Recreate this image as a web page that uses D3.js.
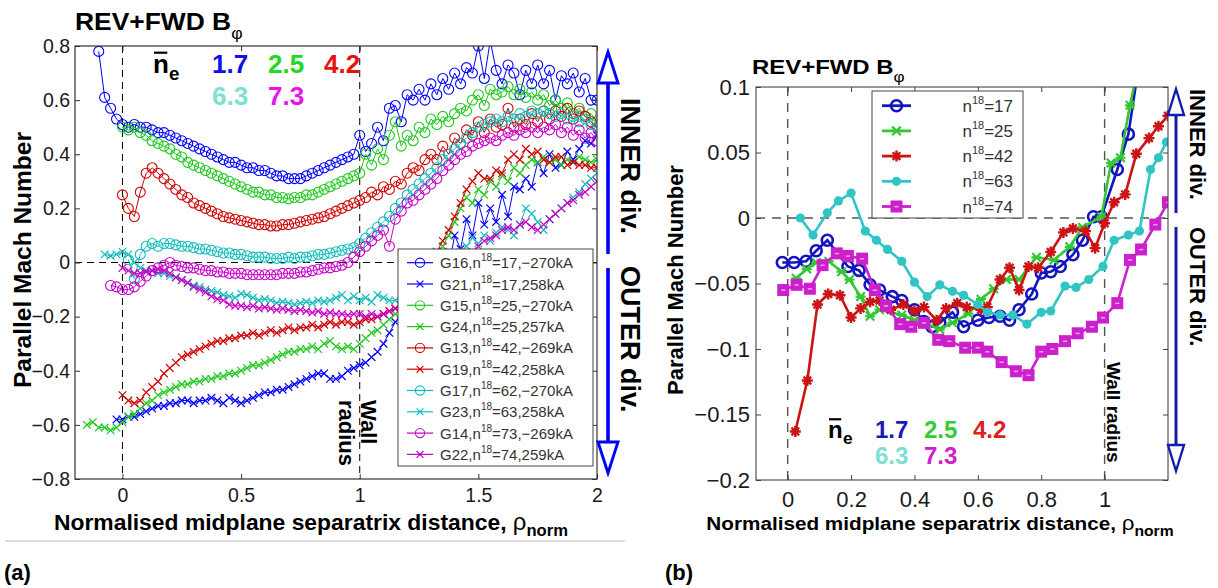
<!DOCTYPE html>
<html><head><meta charset="utf-8">
<script src="https://cdn.jsdelivr.net/npm/d3@7"></script>
<style>
body{margin:0;background:#fff;}
text{font-family:"Liberation Sans",Arial,Helvetica,sans-serif;}
</style>
</head><body>
<svg id="c" width="1218" height="588"></svg>
<script>
// ===== DATA: panel (a) =====
const leftStep = 0.025;
const leftLabels = ["G16","G21","G15","G24","G13","G19","G17","G23","G14","G22"];
const leftDens   = ["17","17","25","25","42","42","62","63","73","74"];
const leftCurr   = ["\u2212270kA","258kA","\u2212270kA","257kA","\u2212269kA","258kA","\u2212270kA","258kA","\u2212269kA","259kA"];
const leftMarkers = ["o","x","o","x","o","x","o","x","o","x"];
const leftStarts = [-0.1,-0.025,0,-0.15,0,0,0.025,-0.075,-0.05,0];
const G16 = [0.78,0.61,0.57,0.53,
 0.51,0.50,0.51,0.50,0.50,0.49,0.48,0.48,0.47,0.46,0.45,0.44,0.43,0.42,0.41,0.40,0.39,0.38,0.37,0.37,
 0.36,0.35,0.35,0.34,0.34,0.33,0.32,0.32,0.31,0.31,0.31,0.32,0.33,0.34,0.35,0.36,0.37,0.38,0.39,0.40,
 0.47,0.41,0.44,0.50,0.45,0.57,0.58,0.52,0.62,0.60,0.64,0.60,0.66,0.62,0.68,0.64,0.70,0.66,0.72,0.70,
 0.80,0.68,0.82,0.71,0.66,0.73,0.70,0.62,0.71,0.66,0.73,0.66,0.71,0.60,0.69,0.66,0.70,0.63,0.68,0.60,0.60];
const G21 = [-0.58,
 -0.58,-0.57,-0.57,-0.56,-0.55,-0.54,-0.53,-0.53,-0.52,-0.52,-0.51,-0.51,-0.52,-0.51,-0.51,-0.50,-0.51,-0.52,-0.50,-0.51,
 -0.52,-0.51,-0.50,-0.49,-0.48,-0.48,-0.47,-0.47,-0.46,-0.45,-0.44,-0.43,-0.42,-0.41,-0.41,-0.43,-0.43,-0.42,-0.40,-0.39,
 -0.38,-0.37,-0.35,-0.33,-0.30,-0.26,-0.22,-0.19,-0.15,-0.12,-0.10,-0.06,-0.02,-0.05,0.04,-0.02,0.10,0.05,0.16,0.10,
 0.22,0.14,0.20,0.15,0.25,0.17,0.28,0.27,0.31,0.28,0.37,0.33,0.40,0.35,0.36,0.41,0.38,0.42,0.45,0.44,0.47];
const G15 = [0.50,0.49,0.50,0.48,0.47,0.45,0.44,0.43,0.42,0.40,0.39,0.37,0.36,0.35,0.34,0.33,0.32,0.31,0.30,0.29,
 0.28,0.27,0.26,0.26,0.25,0.25,0.24,0.24,0.235,0.24,0.24,0.25,0.25,0.26,0.27,0.28,0.29,0.30,0.31,0.32,
 0.33,0.40,0.36,0.42,0.38,0.47,0.52,0.43,0.47,0.45,0.50,0.48,0.53,0.51,0.54,0.52,0.55,0.57,0.56,0.60,
 0.62,0.58,0.64,0.62,0.63,0.65,0.62,0.64,0.61,0.63,0.60,0.62,0.58,0.60,0.57,0.59,0.55,0.57,0.54,0.55,0.52];
const G24 = [-0.60,-0.59,-0.61,-0.61,-0.62,-0.61,
 -0.59,-0.57,-0.56,-0.54,-0.52,-0.51,-0.49,-0.48,-0.47,-0.46,-0.45,-0.45,-0.44,-0.44,-0.43,-0.43,-0.42,-0.42,-0.41,-0.41,
 -0.40,-0.39,-0.38,-0.38,-0.37,-0.36,-0.35,-0.34,-0.33,-0.33,-0.32,-0.32,-0.31,-0.32,-0.30,-0.29,-0.31,-0.32,-0.31,-0.32,
 -0.30,-0.28,-0.26,-0.25,-0.23,-0.21,-0.19,-0.17,-0.15,-0.13,-0.10,-0.06,-0.02,0.03,0.06,0.10,0.15,0.20,0.24,0.22,
 0.27,0.25,0.30,0.28,0.32,0.30,0.35,0.33,0.36,0.38,0.37,0.39,0.37,0.38,0.36,0.38,0.37,0.39,0.38,0.37,0.38];
const G13 = [0.25,0.20,0.17,0.26,0.33,0.35,0.33,0.31,0.29,0.27,0.25,0.24,0.22,0.21,0.20,0.19,0.18,0.17,0.165,0.16,
 0.155,0.15,0.145,0.14,0.14,0.135,0.135,0.14,0.14,0.145,0.15,0.155,0.16,0.165,0.17,0.18,0.19,0.20,0.21,0.22,
 0.23,0.24,0.26,0.25,0.28,0.27,0.30,0.29,0.33,0.35,0.34,0.38,0.40,0.38,0.43,0.40,0.46,0.44,0.49,0.47,
 0.52,0.48,0.53,0.50,0.51,0.57,0.50,0.53,0.51,0.55,0.52,0.56,0.53,0.56,0.54,0.57,0.53,0.56,0.54,0.52,0.50];
const G19 = [-0.49,-0.51,-0.52,-0.51,-0.48,-0.46,-0.44,-0.41,-0.39,-0.37,-0.35,-0.34,-0.33,-0.32,-0.31,-0.30,-0.29,-0.29,-0.28,-0.28,
 -0.27,-0.27,-0.26,-0.27,-0.26,-0.25,-0.26,-0.25,-0.24,-0.25,-0.24,-0.24,-0.23,-0.24,-0.23,-0.22,-0.23,-0.22,-0.22,-0.23,
 -0.22,-0.21,-0.21,-0.20,-0.19,-0.18,-0.17,-0.16,-0.15,-0.12,-0.08,-0.04,0.00,0.04,0.08,0.12,0.17,0.22,0.27,0.30,
 0.33,0.31,0.31,0.34,0.33,0.38,0.40,0.38,0.42,0.40,0.41,0.38,0.37,0.39,0.39,0.36,0.37,0.36,0.36,0.35,0.35];
const G17 = [0.01,-0.06,0.03,0.06,0.07,0.06,0.07,0.07,0.065,0.06,0.06,0.055,0.05,0.05,0.045,0.04,0.035,0.035,0.03,0.03,
 0.025,0.02,0.02,0.02,0.015,0.015,0.015,0.02,0.015,0.02,0.02,0.025,0.03,0.03,0.035,0.04,0.045,0.05,0.055,
 0.07,0.09,0.11,0.13,0.15,0.17,0.20,0.22,0.25,0.27,0.29,0.31,0.33,0.35,0.38,0.40,0.42,0.44,0.46,0.48,
 0.50,0.51,0.52,0.53,0.52,0.54,0.53,0.55,0.54,0.56,0.55,0.56,0.55,0.54,0.55,0.53,0.54,0.52,0.53,0.51,0.50];
const G23 = [0.03,0.025,0.03,
 0.04,0.03,0.0,-0.02,-0.03,-0.03,-0.04,-0.04,-0.05,-0.055,-0.065,-0.075,-0.085,-0.09,-0.10,-0.105,-0.11,-0.12,-0.125,-0.13,
 -0.115,-0.12,-0.13,-0.14,-0.135,-0.14,-0.15,-0.145,-0.15,-0.155,-0.15,-0.145,-0.15,-0.14,-0.145,-0.14,-0.13,-0.12,-0.14,-0.125,
 -0.14,-0.13,-0.145,-0.12,-0.13,-0.14,-0.14,-0.15,-0.14,-0.13,-0.12,-0.10,-0.08,-0.06,-0.04,-0.02,0.01,0.04,0.06,0.09,
 0.07,0.10,0.08,0.11,0.13,0.12,0.10,0.14,0.20,0.18,0.15,0.12,0.16,0.18,0.20,0.22,0.24,0.26,0.29,0.31,0.33];
const G14 = [-0.085,-0.09,
 -0.10,-0.10,-0.09,-0.07,-0.05,-0.03,-0.02,-0.01,0.0,-0.01,-0.015,-0.02,-0.02,-0.025,-0.03,-0.03,-0.035,-0.035,-0.04,-0.04,
 -0.04,-0.045,-0.045,-0.045,-0.045,-0.045,-0.045,-0.04,-0.04,-0.04,-0.035,-0.035,-0.03,-0.025,-0.02,-0.02,-0.015,-0.01,0.0,0.02,
 0.04,0.06,0.08,0.10,0.12,0.06,0.16,0.19,0.22,0.23,0.25,0.27,0.29,0.31,0.34,0.36,0.38,0.40,0.41,0.43,
 0.44,0.45,0.46,0.45,0.47,0.48,0.47,0.49,0.48,0.50,0.48,0.50,0.49,0.51,0.48,0.50,0.47,0.49,0.46,0.48,0.45];
const G22 = [-0.02,-0.03,-0.04,-0.04,-0.035,-0.03,-0.025,-0.03,-0.04,-0.055,-0.065,-0.075,-0.09,-0.10,-0.11,-0.125,-0.135,-0.14,-0.155,-0.16,
 -0.16,-0.165,-0.16,-0.17,-0.165,-0.17,-0.175,-0.17,-0.175,-0.18,-0.175,-0.18,-0.185,-0.18,-0.19,-0.185,-0.19,-0.19,-0.195,-0.19,
 -0.19,-0.20,-0.19,-0.20,-0.19,-0.18,-0.17,-0.16,-0.16,-0.15,-0.14,-0.12,-0.10,-0.08,-0.06,-0.04,-0.02,0.0,0.02,0.04,
 0.06,0.08,0.09,0.10,0.12,0.13,0.12,0.14,0.15,0.13,0.12,0.14,0.16,0.18,0.20,0.22,0.23,0.25,0.26,0.28,0.30];
const leftValues = [G16,G21,G15,G24,G13,G19,G17,G23,G14,G22];
const leftColors = ["#0000ff","#0000ff","#1ec81e","#1ec81e","#d00000","#d00000","#10bcbc","#10bcbc","#c800c8","#c800c8"];
const leftXTicks = [0,0.5,1,1.5,2];
const leftYTicks = [-0.8,-0.6,-0.4,-0.2,0,0.2,0.4,0.6,0.8];

// ===== DATA: panel (b) =====
const rightDens = ["17","25","42","63","74"];
const rightMarkers = ["circle","star","plus","dot","square"];
const rightColors = ["#1414c0","#33c833","#cc1414","#30c4c4","#cc20cc"];
const B17_x = [-0.017,0.02,0.058,0.09,0.125,0.19,0.225,0.26,0.29,0.33,0.36,0.40,0.43,0.455,0.48,0.52,0.555,0.60,0.635,0.67,0.70,0.73,0.77,0.80,0.83,0.86,0.90,0.93,0.965,0.99,1.04,1.075,1.11];
const B17_y = [-0.034,-0.034,-0.033,-0.025,-0.017,-0.037,-0.04,-0.051,-0.055,-0.06,-0.063,-0.07,-0.079,-0.083,-0.08,-0.072,-0.083,-0.078,-0.076,-0.075,-0.078,-0.07,-0.058,-0.042,-0.041,-0.037,-0.028,-0.017,0.001,0.001,0.037,0.064,0.12];
const B25_x = [0.027,0.06,0.09,0.13,0.17,0.195,0.23,0.26,0.29,0.36,0.40,0.43,0.48,0.52,0.57,0.61,0.65,0.69,0.73,0.785,0.84,0.89,0.93,0.99,1.02,1.05,1.08,1.11];
const B25_y = [-0.046,-0.039,-0.034,-0.033,-0.041,-0.047,-0.06,-0.075,-0.07,-0.074,-0.078,-0.08,-0.085,-0.08,-0.073,-0.062,-0.054,-0.047,-0.047,-0.03,-0.032,-0.022,-0.007,0.001,0.042,0.046,0.086,0.12];
const B42_x = [0.024,0.062,0.094,0.128,0.165,0.2,0.23,0.26,0.29,0.325,0.365,0.40,0.43,0.47,0.50,0.535,0.565,0.61,0.63,0.67,0.70,0.73,0.76,0.79,0.83,0.87,0.90,0.94,0.97,1.0,1.03,1.065,1.1,1.14,1.17,1.2];
const B42_y = [-0.163,-0.124,-0.066,-0.058,-0.059,-0.076,-0.069,-0.064,-0.063,-0.07,-0.066,-0.071,-0.068,-0.078,-0.069,-0.065,-0.068,-0.07,-0.068,-0.047,-0.038,-0.055,-0.037,-0.038,-0.026,-0.011,-0.008,-0.01,-0.023,-0.004,0.012,0.018,0.049,0.061,0.07,0.078];
const B63_x = [0.04,0.08,0.125,0.16,0.2,0.245,0.28,0.315,0.36,0.40,0.44,0.48,0.52,0.555,0.60,0.63,0.67,0.71,0.755,0.80,0.83,0.875,0.91,0.95,0.995,1.03,1.075,1.11,1.145,1.17,1.195];
const B63_y = [0.0,-0.013,0.004,0.013,0.019,-0.01,-0.017,-0.024,-0.033,-0.049,-0.06,-0.051,-0.056,-0.059,-0.066,-0.072,-0.074,-0.074,-0.081,-0.072,-0.071,-0.052,-0.053,-0.047,-0.037,-0.017,-0.013,-0.01,0.037,0.046,0.058];
const B74_x = [-0.014,0.028,0.07,0.11,0.155,0.19,0.235,0.275,0.31,0.355,0.39,0.43,0.475,0.51,0.56,0.60,0.63,0.675,0.72,0.76,0.80,0.835,0.875,0.915,0.96,0.995,1.04,1.08,1.115,1.16,1.2];
const B74_y = [-0.055,-0.051,-0.054,-0.036,-0.027,-0.029,-0.031,-0.055,-0.067,-0.081,-0.083,-0.08,-0.093,-0.094,-0.099,-0.099,-0.102,-0.11,-0.117,-0.12,-0.102,-0.1,-0.094,-0.088,-0.083,-0.076,-0.065,-0.032,-0.024,-0.005,0.012];
const rightXs = [B17_x,B25_x,B42_x,B63_x,B74_x];
const rightYs = [B17_y,B25_y,B42_y,B63_y,B74_y];
const rightXTicks = [0,0.2,0.4,0.6,0.8,1];
const rightYTicks = [-0.2,-0.15,-0.1,-0.05,0,0.05,0.1];

// ===== DRAWING =====
const svg = d3.select("#c");
const fmt = d3.format("");

function drawFrame(g, xs, ys, xt, yt, opts){
  const [x0,x1] = xs.range(), [y1,y0] = ys.range();
  const ax = g.append("g");
  const mk = (axis, tr) => {
    const a = ax.append("g").attr("transform", tr).call(axis);
    a.select(".domain").remove();
    a.selectAll(".tick line").attr("stroke", opts.frame).attr("stroke-width",1);
    a.selectAll(".tick text").attr("font-size", opts.tickFont).attr("fill","#1a1a1a")
      .attr("font-family","'Liberation Sans',Arial,sans-serif");
    return a;
  };
  mk(d3.axisBottom(xs).tickValues(xt).tickFormat(fmt).tickSizeInner(-5).tickSizeOuter(0).tickPadding(opts.xPad), `translate(0,${y1})`);
  mk(d3.axisTop(xs).tickValues(xt).tickFormat("").tickSizeInner(-5).tickSizeOuter(0), `translate(0,${y0})`);
  mk(d3.axisLeft(ys).tickValues(yt).tickFormat(fmt).tickSizeInner(-5).tickSizeOuter(0).tickPadding(opts.yPad), `translate(${x0},0)`);
  mk(d3.axisRight(ys).tickValues(yt).tickFormat("").tickSizeInner(-5).tickSizeOuter(0), `translate(${x1},0)`);
  g.append("rect").attr("x",x0).attr("y",y0).attr("width",x1-x0).attr("height",y1-y0)
    .attr("fill","none").attr("stroke",opts.frame).attr("stroke-width",opts.frameW);
}

function marker(g, type, x, y, color, s){
  if(type==="o"){
    g.append("circle").attr("cx",x).attr("cy",y).attr("r",s).attr("fill","none").attr("stroke",color).attr("stroke-width",1.1);
  } else if(type==="x"){
    g.append("path").attr("d",`M${x-s},${y-s}L${x+s},${y+s}M${x-s},${y+s}L${x+s},${y-s}`).attr("stroke",color).attr("stroke-width",1.2);
  } else if(type==="circle"){
    g.append("circle").attr("cx",x).attr("cy",y).attr("r",s).attr("fill","none").attr("stroke",color).attr("stroke-width",2.6);
  } else if(type==="star"){
    const a=s*0.85;
    g.append("path").attr("d",`M${x-a},${y-a}L${x+a},${y+a}M${x-a},${y+a}L${x+a},${y-a}M${x-s},${y}L${x+s},${y}`).attr("stroke",color).attr("stroke-width",2.2);
  } else if(type==="plus"){
    const a=s*0.7;
    g.append("path").attr("d",`M${x-s},${y}L${x+s},${y}M${x},${y-s}L${x},${y+s}M${x-a},${y-a}L${x+a},${y+a}M${x-a},${y+a}L${x+a},${y-a}`).attr("stroke",color).attr("stroke-width",2.4);
  } else if(type==="dot"){
    g.append("circle").attr("cx",x).attr("cy",y).attr("r",s).attr("fill",color);
  } else if(type==="square"){
    g.append("rect").attr("x",x-s).attr("y",y-s).attr("width",2*s).attr("height",2*s).attr("fill",color);
    g.append("rect").attr("x",x-s*0.35).attr("y",y-s*0.1).attr("width",s*0.7).attr("height",s*0.25).attr("fill","#e9a6e9");
  }
}

function rotText(x,y,str,size,weight,angle,anchor,fill){
  return svg.append("text").attr("transform",`translate(${x},${y}) rotate(${angle})`)
    .attr("font-size",size).attr("font-weight",weight).attr("text-anchor",anchor||"start")
    .attr("fill",fill||"#000").text(str);
}
// horizontal text, slightly stretched horizontally like the source figure
function hText(x,y,size,weight,sx,anchor){
  return svg.append("g").attr("transform",`translate(${x},${y}) scale(${sx},1)`)
    .append("text").attr("font-size",size).attr("font-weight",weight).attr("text-anchor",anchor||"start");
}

function vArrow(x, yStart, yTip, headLen, headHalf, color, w){
  const dir = yTip < yStart ? -1 : 1;
  const base = yTip - dir*headLen;
  svg.append("line").attr("x1",x).attr("x2",x).attr("y1",yStart).attr("y2",base)
    .attr("stroke",color).attr("stroke-width",w);
  svg.append("path").attr("d",`M${x},${yTip}L${x-headHalf},${base}L${x+headHalf},${base}Z`)
    .attr("fill","#fff").attr("stroke",color).attr("stroke-width",w*0.8);
}

// ---------- Panel (a) ----------
const xa = d3.scaleLinear().domain([-0.2,2]).range([75,597]);
const ya = d3.scaleLinear().domain([-0.8,0.8]).range([479,46]);
svg.append("defs").append("clipPath").attr("id","clipA").append("rect")
  .attr("x",75).attr("y",46).attr("width",522).attr("height",433);
svg.select("defs").append("clipPath").attr("id","clipB").append("rect")
  .attr("x",756).attr("y",87).attr("width",412).attr("height",393);

const ga = svg.append("g");
ga.append("line").attr("x1",xa(-0.2)).attr("x2",xa(2)).attr("y1",ya(0)).attr("y2",ya(0))
  .attr("stroke","#000").attr("stroke-dasharray","7,5");
[0,1].forEach(v=>ga.append("line").attr("x1",xa(v)).attr("x2",xa(v)).attr("y1",ya(0.8)).attr("y2",ya(-0.8))
  .attr("stroke","#000").attr("stroke-dasharray","7,5"));

const dataA = ga.append("g").attr("clip-path","url(#clipA)");
leftValues.forEach((vals,i)=>{
  const pts = vals.map((v,k)=>[leftStarts[i]+k*leftStep, v]);
  const line = d3.line().x(d=>xa(d[0])).y(d=>ya(d[1]));
  const sg = dataA.append("g");
  sg.append("path").attr("d",line(pts)).attr("fill","none").attr("stroke",leftColors[i]).attr("stroke-width",1);
  pts.forEach(p=>marker(sg,leftMarkers[i],xa(p[0]),ya(p[1]),leftColors[i],leftMarkers[i]==="o"?5:3.8));
});
drawFrame(ga, xa, ya, leftXTicks, leftYTicks, {frame:"#333",frameW:1.2,tickFont:"19.5px",xPad:9,yPad:5});

rotText(361,400,"Wall",22,"bold",90);
rotText(339,400,"radius",22,"bold",90);

// legend (a)
const lgA = svg.append("g");
lgA.append("rect").attr("x",398).attr("y",249).attr("width",195).attr("height",217)
  .attr("fill","#fff").attr("stroke","#444").attr("stroke-width",1);
leftLabels.forEach((lab,i)=>{
  const cy = 262.7 + i*21.3;
  lgA.append("line").attr("x1",407).attr("x2",433).attr("y1",cy).attr("y2",cy).attr("stroke",leftColors[i]).attr("stroke-width",1.2);
  marker(lgA,leftMarkers[i],420,cy,leftColors[i],leftMarkers[i]==="o"?4.6:3.4);
  const t = lgA.append("text").attr("x",440).attr("y",cy+5.5).attr("font-size",15).attr("fill","#333");
  t.append("tspan").text(lab+",n");
  t.append("tspan").attr("font-size",10).attr("dy",-7).text("18");
  t.append("tspan").attr("dy",7).text("="+leftDens[i]+","+leftCurr[i]);
});

// Title (a)
const ta = hText(75,30,24,"bold",1.1);
ta.append("tspan").text("REV+FWD B");
ta.append("tspan").attr("font-size",16).attr("font-weight","normal").attr("dy",9).text("\u03c6");

function neLabel(x, y, size, cols, vals, colX, rowDy){
  svg.append("text").attr("x",x).attr("y",y).attr("font-size",size).attr("font-weight","bold").text("n");
  svg.append("line").attr("x1",x+1).attr("x2",x+size*0.55).attr("y1",y-size*0.78).attr("y2",y-size*0.78)
    .attr("stroke","#000").attr("stroke-width",2.2);
  svg.append("text").attr("x",x+size*0.62).attr("y",y+size*0.25).attr("font-size",size*0.72).attr("font-weight","bold").text("e");
  vals.forEach((v,i)=>{
    const row = i<3?0:1, col = i<3?i:i-3;
    svg.append("text").attr("x",colX[col]).attr("y",y+row*rowDy).attr("font-size",size)
      .attr("font-weight","bold").attr("fill",cols[i]).text(v);
  });
}
const neVals = ["1.7","2.5","4.2","6.3","7.3"];
neLabel(153,73,26,["#1010e8","#22d822","#e81010","#7fe0cf","#ee10ee"],neVals,[212,268,324],32);

vArrow(608,254,52,31,10,"#0000ff",3.6);
vArrow(608,268,473,31,10,"#0000ff",3.6);
rotText(621,98,"INNER div.",27,"bold",90);
rotText(621,266,"OUTER div.",27,"bold",90);

rotText(31,260,"Parallel Mach Number",24.5,"bold",-90,"middle");
const xta = hText(311,530,22,"bold",1.04,"middle");
xta.append("tspan").text("Normalised midplane separatrix distance, ");
xta.append("tspan").attr("font-weight","normal").attr("font-size",23).text("\u03c1");
xta.append("tspan").attr("font-size",16).attr("dy",6).text("norm");
svg.append("line").attr("x1",5).attr("x2",625).attr("y1",541).attr("y2",541).attr("stroke","#d4d4d4").attr("stroke-width",1.5);
svg.append("text").attr("x",4).attr("y",580).attr("font-size",22).attr("font-weight","bold").text("(a)");

// ---------- Panel (b) ----------
const xb = d3.scaleLinear().domain([-0.1,1.2]).range([756,1168]);
const yb = d3.scaleLinear().domain([-0.2,0.1]).range([480,87]);
const gb = svg.append("g");
gb.append("line").attr("x1",xb(-0.1)).attr("x2",xb(1.2)).attr("y1",yb(0)).attr("y2",yb(0))
  .attr("stroke","#555").attr("stroke-width",1.4).attr("stroke-dasharray","9,7");
[0,1].forEach(v=>gb.append("line").attr("x1",xb(v)).attr("x2",xb(v)).attr("y1",yb(0.1)).attr("y2",yb(-0.2))
  .attr("stroke","#555").attr("stroke-width",1.4).attr("stroke-dasharray","9,7"));

const dataB = gb.append("g").attr("clip-path","url(#clipB)");
const sizesB = {circle:5.5,star:5,plus:5.5,dot:4.6,square:6};
rightXs.forEach((xsArr,i)=>{
  const pts = xsArr.map((x,k)=>[x, rightYs[i][k]]);
  const line = d3.line().x(d=>xb(d[0])).y(d=>yb(d[1]));
  const sg = dataB.append("g");
  sg.append("path").attr("d",line(pts)).attr("fill","none").attr("stroke",rightColors[i]).attr("stroke-width",2.6);
  pts.forEach(p=>marker(sg,rightMarkers[i],xb(p[0]),yb(p[1]),rightColors[i],sizesB[rightMarkers[i]]));
});
drawFrame(gb, xb, yb, rightXTicks, rightYTicks, {frame:"#444",frameW:1.1,tickFont:"22px",xPad:11,yPad:6});

const lgB = svg.append("g");
lgB.append("rect").attr("x",872).attr("y",91).attr("width",151).attr("height",127)
  .attr("fill","#fff").attr("stroke","#444").attr("stroke-width",1);
rightDens.forEach((d,i)=>{
  const cy = 105.7 + i*25.2;
  lgB.append("line").attr("x1",882).attr("x2",911).attr("y1",cy).attr("y2",cy).attr("stroke",rightColors[i]).attr("stroke-width",2.8);
  marker(lgB,rightMarkers[i],896.5,cy,rightColors[i],sizesB[rightMarkers[i]]);
  const t = lgB.append("text").attr("x",1013).attr("y",cy+6).attr("font-size",17).attr("fill","#333").attr("text-anchor","end");
  t.append("tspan").text("n");
  t.append("tspan").attr("font-size",11).attr("dy",-8).text("18");
  t.append("tspan").attr("dy",8).text("="+d);
});

const tb = hText(752,74,21,"bold",1.14);
tb.append("tspan").text("REV+FWD B");
tb.append("tspan").attr("font-size",15).attr("font-weight","normal").attr("dy",8).text("\u03c6");

neLabel(828,438,24,["#1a1ab8","#33cc33","#dd2020","#80e0d0","#cc22cc"],neVals,[875,924,973],26);

rotText(1107,362,"Wall radius",19,"bold",90);
vArrow(1176,213,89,26,8,"#1a1aa8",3);
vArrow(1176,227,471,26,8,"#1a1aa8",3);
rotText(1190,89,"INNER div.",22,"bold",90);
rotText(1190,227,"OUTER div.",22,"bold",90);

rotText(683,280,"Parallel Mach Number",22,"bold",-90,"middle");
const xtb = hText(940,530,18.5,"bold",1.12,"middle");
xtb.append("tspan").text("Normalised midplane separatrix distance, ");
xtb.append("tspan").attr("font-weight","normal").attr("font-size",20).text("\u03c1");
xtb.append("tspan").attr("font-size",14).attr("dy",6).text("norm");
svg.append("text").attr("x",665).attr("y",580).attr("font-size",22).attr("font-weight","bold").text("(b)");
</script>
</body></html>
